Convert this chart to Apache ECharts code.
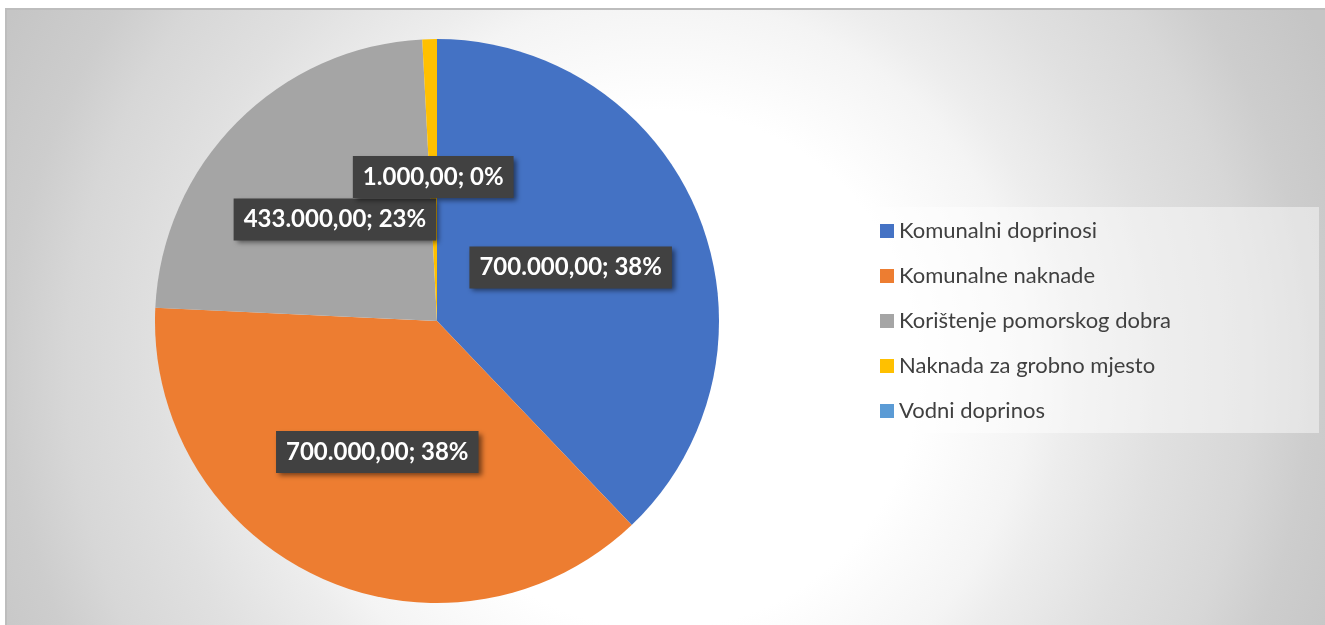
<!DOCTYPE html>
<html>
<head>
<meta charset="utf-8">
<script src="https://cdn.jsdelivr.net/npm/echarts@6/dist/echarts.min.js"></script>
<style>
html, body { margin: 0; padding: 0; background: #fff; }
#chart { width: 1325px; height: 625px; }
</style>
</head>
<body>
<div id="chart"></div>
<script>
// podaci
var categories = ['Komunalni doprinosi', 'Komunalne naknade', 'Korištenje pomorskog dobra', 'Naknada za grobno mjesto', 'Vodni doprinos'];
var values = [700000, 700000, 433000, 1000, null];
var pctLabels = [38, 38, 23, 0, 0]; // postoci kako su ispisani na grafu
var colors = ['#4472C4', '#ED7D31', '#A5A5A5', '#FFC000', '#5B9BD5'];

// 700000 -> 700.000,00
function fmtNum(v) {
	var s = Math.round(v).toString();
	var out = '';
	while (s.length > 3) {
		out = '.' + s.slice(-3) + out;
		s = s.slice(0, -3);
	}
	return s + out + ',00';
}

var chart = echarts.init(document.getElementById('chart'));

var pieData = categories.map(function (name, i) {
	return { name: name, value: values[i] };
});

var option = {
	animation: false,
	color: colors,
	graphic: [{
		type: 'rect',
		z: -10,
		silent: true,
		shape: { x: 6, y: 9, width: 1340, height: 640 },
		style: {
			fill: new echarts.graphic.RadialGradient(660, 370, 740, [
				{ offset: 0, color: '#ffffff' },
				{ offset: 0.35, color: '#ffffff' },
				{ offset: 0.5, color: '#f4f4f4' },
				{ offset: 0.55, color: '#ededed' },
				{ offset: 0.68, color: '#e0e0e0' },
				{ offset: 0.8, color: '#d7d7d7' },
				{ offset: 0.88, color: '#cdcdcd' },
				{ offset: 1, color: '#c5c5c5' }
			], true),
			stroke: '#bdbdbd',
			lineWidth: 2
		}
	}, {
		type: 'rect', // pozadina legende
		z: -5,
		silent: true,
		shape: { x: 868, y: 207, width: 451, height: 226 },
		style: { fill: 'rgba(255,255,255,0.45)' }
	}],
	legend: {
		orient: 'vertical',
		left: 880,
		top: 219,
		padding: 0,
		itemWidth: 14,
		itemHeight: 14,
		itemGap: 21,
		icon: 'rect',
		selectedMode: false,
		textStyle: {
			fontFamily: 'Lato',
			fontSize: 22,
			lineHeight: 24,
			color: '#404040'
		},
		data: categories
	},
	series: [{
		type: 'pie',
		center: [437, 321],
		radius: 282,
		startAngle: 90,
		clockwise: true,
		minAngle: 3,
		avoidLabelOverlap: false,
		emphasis: { disabled: true },
		labelLine: { show: false },
		label: {
			show: true,
			position: 'inside',
			color: '#ffffff',
			fontFamily: 'Lato',
			fontWeight: 'bold',
			fontSize: 24,
			backgroundColor: '#414141',
			padding: [9, 10, 9, 10],
			shadowColor: 'rgba(0,0,0,0.5)',
			shadowBlur: 5,
			shadowOffsetX: 3,
			shadowOffsetY: 3,
			formatter: function (p) {
				return fmtNum(p.value) + '; ' + pctLabels[p.dataIndex] + '%';
			}
		},
		data: pieData
	}]
};

chart.setOption(option);
</script>
</body>
</html>
